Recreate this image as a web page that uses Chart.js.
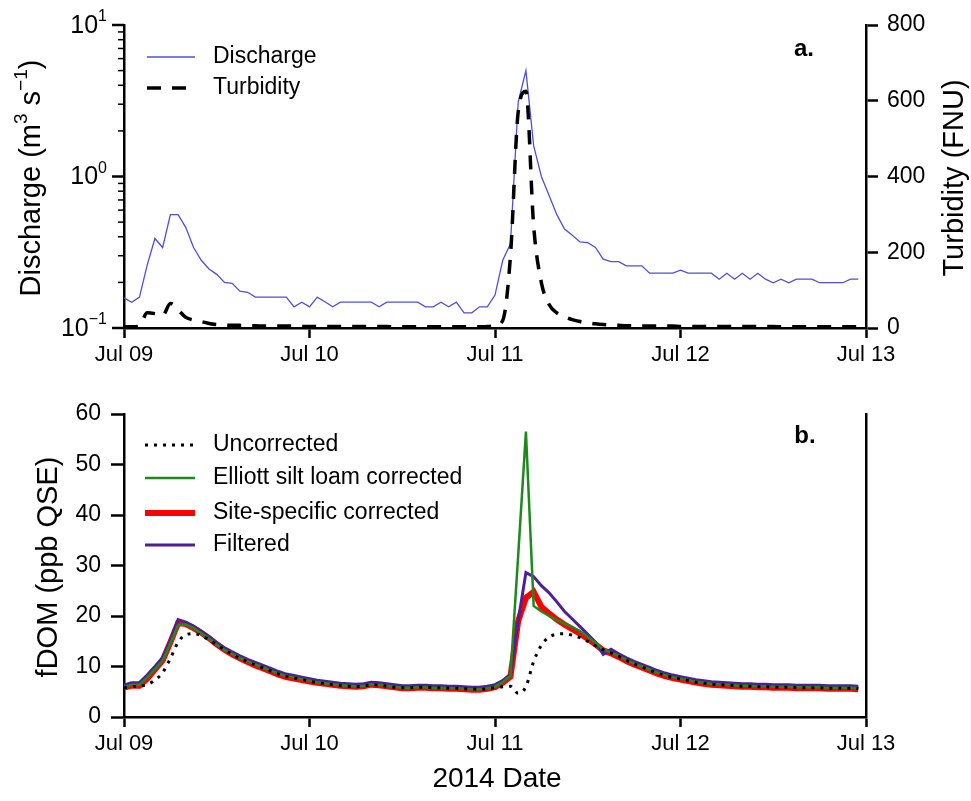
<!DOCTYPE html>
<html><head><meta charset="utf-8">
<script src="https://cdn.jsdelivr.net/npm/chart.js@4.4.1/dist/chart.umd.min.js"></script>
<style>
html,body{margin:0;padding:0;background:#fff;}
#wrap{position:relative;width:971px;height:801px;overflow:hidden;}
canvas{display:block;}
</style></head><body>
<div id="wrap">
<div style="position:absolute;left:0;top:0;width:971px;height:370px"><canvas id="c1" width="971" height="370"></canvas></div>
<div style="position:absolute;left:0;top:370px;width:971px;height:431px"><canvas id="c2" width="971" height="431"></canvas></div>
</div>
<script>
// ---------- data (hourly, starting Jul 09 00:00, 2014) ----------
const tickLabels = ['Jul 09','Jul 10','Jul 11','Jul 12','Jul 13'];
const logTicks = [0.1, 1, 10];
const logTickExp = ['\u22121', '0', '1'];

const discharge = [
 0.158,0.148,0.160,0.26,0.39,0.34,0.56,0.56,0.46,0.34,
 0.28,0.245,0.226,0.20,0.197,0.175,0.172,0.160,0.160,0.160,
 0.160,0.160,0.138,0.148,0.138,0.160,0.149,0.138,0.148,0.148,
 0.148,0.148,0.148,0.138,0.148,0.148,0.148,0.148,0.148,0.138,
 0.138,0.148,0.138,0.148,0.126,0.126,0.138,0.138,0.165,0.28,
 0.36,3.1,5.0,1.6,1.0,0.75,0.56,0.45,0.41,0.37,
 0.366,0.34,0.285,0.274,0.274,0.257,0.257,0.257,0.23,0.23,
 0.23,0.23,0.241,0.23,0.23,0.23,0.23,0.21,0.23,0.21,
 0.23,0.21,0.23,0.21,0.199,0.21,0.199,0.21,0.21,0.21,
 0.199,0.199,0.199,0.199,0.21,0.21];

const turbidity = [
 3,3,5,40,38,33,65,48,28,21,
 17,12,9,8,7,7,6,6,5,5,
 5,5,5,4,4,4,4,4,4,4,
 4,4,4,4,4,3,3,3,3,3,
 3,3,3,3,3,3,3,4,6,20,
 190,570,625,270,120,62,40,30,22,17,
 14,11,9,8,7,6,6,5,5,5,
 5,5,4,4,4,4,4,4,4,4,
 4,4,4,4,4,3,3,3,3,3,
 3,3,3,3,3,3];

const uncorrected = [
 5.8,6.0,6.1,6.4,7.3,8.8,11.6,14.8,16.3,16.5,
 16.1,15.3,14.3,13.3,12.4,11.6,10.9,10.3,9.7,9.1,
 8.5,8.0,7.7,7.4,7.1,6.8,6.6,6.4,6.2,6.1,
 6.0,6.1,6.4,6.3,6.1,5.9,5.8,5.8,5.9,5.9,
 5.8,5.8,5.7,5.7,5.6,5.5,5.5,5.6,5.8,6.0,
 6.1,4.7,6.0,11.0,14.2,15.8,16.4,16.5,16.2,15.7,
 15.0,14.1,13.3,12.7,12.0,11.2,10.5,9.9,9.3,8.7,
 8.2,7.8,7.5,7.2,6.9,6.7,6.5,6.4,6.3,6.2,
 6.1,6.1,6.0,6.0,5.9,5.9,5.9,5.8,5.8,5.8,
 5.8,5.7,5.7,5.7,5.7,5.6];

const elliott = [
 5.9,6.4,6.4,7.8,9.5,11.2,14.6,18.2,18.3,17.6,
 16.6,15.5,14.3,13.3,12.5,11.7,11.0,10.4,9.8,9.2,
 8.6,8.1,7.8,7.5,7.2,6.9,6.7,6.5,6.3,6.2,
 6.1,6.2,6.5,6.4,6.2,6.0,5.8,5.8,5.9,5.9,
 5.8,5.8,5.7,5.7,5.6,5.5,5.5,5.7,6.0,6.9,
 8.2,32.0,56.5,22.0,20.9,20.0,19.2,18.5,17.8,17.0,
 15.9,14.7,13.4,12.8,12.1,11.3,10.6,10.0,9.4,8.8,
 8.3,7.9,7.6,7.3,7.0,6.8,6.6,6.5,6.4,6.3,
 6.2,6.2,6.1,6.1,6.0,6.0,6.0,5.9,5.9,5.9,
 5.9,5.8,5.8,5.8,5.8,5.7];

const siteSpecific = [
 5.8,6.2,6.2,7.6,9.4,11.2,14.8,18.6,18.4,17.6,
 16.7,15.6,14.4,13.3,12.4,11.6,10.9,10.2,9.6,9.0,
 8.4,7.9,7.6,7.3,7.0,6.8,6.6,6.4,6.2,6.1,
 6.0,6.1,6.4,6.3,6.1,5.9,5.7,5.7,5.8,5.8,
 5.7,5.7,5.6,5.6,5.5,5.4,5.4,5.6,5.9,6.8,
 8.0,19.0,23.6,24.8,21.8,20.5,19.3,18.3,17.4,16.5,
 15.5,14.4,13.2,12.6,11.9,11.1,10.4,9.8,9.2,8.6,
 8.1,7.7,7.4,7.1,6.8,6.6,6.4,6.3,6.2,6.1,
 6.0,6.0,5.9,5.9,5.8,5.8,5.8,5.7,5.7,5.7,
 5.7,5.6,5.6,5.6,5.6,5.5];

const filtered = [
 6.3,6.8,6.8,8.3,10.0,11.8,15.3,19.3,18.8,18.0,
 17.0,15.9,14.7,13.7,12.9,12.1,11.4,10.8,10.2,9.6,
 9.0,8.5,8.2,7.9,7.6,7.3,7.1,6.9,6.7,6.6,
 6.5,6.6,6.9,6.8,6.6,6.4,6.2,6.2,6.3,6.3,
 6.2,6.2,6.1,6.1,6.0,5.9,5.9,6.1,6.4,7.2,
 8.5,19.0,28.6,27.8,26.0,24.6,22.8,20.9,19.4,17.9,
 16.4,14.8,12.4,13.4,12.5,11.7,11.0,10.4,9.8,9.2,
 8.7,8.3,8.0,7.7,7.4,7.2,7.0,6.9,6.8,6.7,
 6.6,6.6,6.5,6.5,6.4,6.4,6.4,6.3,6.3,6.3,
 6.3,6.2,6.2,6.2,6.2,6.1];

// ---------- helpers ----------
const FONT = '"Liberation Sans", Arial, Helvetica, sans-serif';
const toXY = arr => arr.map((v, i) => ({x: i, y: v}));
const fixSize = (w, h) => (scale) => { if (w != null) scale.width = w; if (h != null) scale.height = h; };

function drawRich(ctx, parts, cx, cy, rot, size) {
  const supSize = Math.round(size * 0.65);
  ctx.save();
  ctx.translate(cx, cy); ctx.rotate(rot);
  ctx.fillStyle = '#000';
  ctx.textBaseline = 'middle'; ctx.textAlign = 'left';
  let total = 0;
  parts.forEach(p => { ctx.font = (p.sup ? supSize : size) + 'px ' + FONT; total += ctx.measureText(p.t).width; });
  let x = -total / 2;
  parts.forEach(p => {
    ctx.font = (p.sup ? supSize : size) + 'px ' + FONT;
    ctx.fillText(p.t, x, p.sup ? -size * 0.36 : 0);
    x += ctx.measureText(p.t).width;
  });
  ctx.restore();
}

function drawLegend(chart, idxs, x0, x1, tx, ys, size) {
  const ctx = chart.ctx;
  idxs.forEach((idx, k) => {
    const ds = chart.data.datasets[idx];
    ctx.save();
    ctx.strokeStyle = ds.borderColor; ctx.lineWidth = ds.borderWidth;
    ctx.setLineDash(ds.borderDash || []);
    ctx.lineCap = ds.borderCapStyle || 'butt';
    ctx.beginPath(); ctx.moveTo(x0, ys[k]); ctx.lineTo(x1, ys[k]); ctx.stroke();
    ctx.setLineDash([]);
    ctx.fillStyle = '#000'; ctx.font = size + 'px ' + FONT;
    ctx.textBaseline = 'middle'; ctx.textAlign = 'left';
    ctx.fillText(ds.label, tx, ys[k]);
    ctx.restore();
  });
}

const xAxis = (h) => ({
  type: 'linear', min: 0, max: 96,
  afterFit: fixSize(null, h),
  border: {display: true, color: '#000', width: 2.5},
  grid: {display: true, drawOnChartArea: false, drawTicks: true, tickLength: 10, tickColor: '#000', tickWidth: 2.5},
  ticks: {stepSize: 24, color: '#000', padding: 4, maxRotation: 0, autoSkip: false,
          font: {family: FONT, size: 22},
          callback: (v) => tickLabels[v / 24] ?? ''}
});

// ---------- panel a ----------
const panelA = {
  id: 'panelA',
  afterDraw(chart) {
    const ctx = chart.ctx, s = chart.scales.y, left = chart.chartArea.left;
    ctx.save();
    ctx.strokeStyle = '#000';
    for (let e = -1; e <= 1; e++) {
      for (let m = 1; m <= 9; m++) {
        const v = m * Math.pow(10, e);
        if (v > 10.0001) break;
        const y = s.getPixelForValue(v);
        const len = m === 1 ? 12 : 6;
        ctx.lineWidth = m === 1 ? 2.5 : 1.5;
        ctx.beginPath(); ctx.moveTo(left - len, y); ctx.lineTo(left, y); ctx.stroke();
      }
    }
    ctx.fillStyle = '#000'; ctx.textBaseline = 'middle';
    logTicks.forEach((v, i) => {
      const y = s.getPixelForValue(v);
      ctx.font = '16px ' + FONT; ctx.textAlign = 'right';
      const ew = ctx.measureText(logTickExp[i]).width;
      ctx.fillText(logTickExp[i], 107, y - 8);
      ctx.font = '25px ' + FONT;
      ctx.fillText('10', 107 - ew, y + 1);
    });
    ctx.restore();
    drawRich(ctx, [{t: 'Discharge (m'}, {t: '3', sup: 1}, {t: ' s'}, {t: '\u22121', sup: 1}, {t: ')'}], 32, 178, -Math.PI / 2, 29);
    drawRich(ctx, [{t: 'Turbidity (FNU)'}], 955, 178, -Math.PI / 2, 29);
    ctx.save(); ctx.fillStyle = '#000'; ctx.font = 'bold 24px ' + FONT; ctx.textAlign = 'center'; ctx.textBaseline = 'middle';
    ctx.fillText('a.', 804, 49); ctx.restore();
    drawLegend(chart, [0, 1], 147, 195, 213, [57, 88], 23);
  }
};

new Chart(document.getElementById('c1'), {
  type: 'line',
  data: {datasets: [
    {label: 'Discharge', data: toXY(discharge), yAxisID: 'y', borderColor: '#4f4fdc', borderWidth: 1.3, pointRadius: 0, order: 1},
    {label: 'Turbidity', data: toXY(turbidity), yAxisID: 'y1', borderColor: '#000', borderWidth: 3.5, borderDash: [14, 11], pointRadius: 0, cubicInterpolationMode: 'monotone', order: 0}
  ]},
  options: {
    responsive: false, animation: false, devicePixelRatio: 1, events: [],
    layout: {padding: {top: 25, left: 0, right: 0, bottom: 0}},
    plugins: {legend: {display: false}, tooltip: {enabled: false}},
    scales: {
      x: xAxis(42),
      y: {type: 'logarithmic', position: 'left', min: 0.1, max: 10, afterFit: fixSize(124, null),
          border: {display: true, color: '#000', width: 2.5},
          grid: {display: false}, ticks: {display: false}},
      y1: {type: 'linear', position: 'right', min: 0, max: 800, afterFit: fixSize(105, null),
          border: {display: true, color: '#000', width: 2.5},
          grid: {display: true, drawOnChartArea: false, tickLength: 12, tickColor: '#000', tickWidth: 2.5},
          ticks: {stepSize: 200, color: '#000', padding: 9, font: {family: FONT, size: 23}}}
    }
  },
  plugins: [panelA]
});

// ---------- panel b ----------
const panelB = {
  id: 'panelB',
  afterDraw(chart) {
    const ctx = chart.ctx;
    drawRich(ctx, [{t: 'fDOM (ppb QSE)'}], 49, 197, -Math.PI / 2, 29);
    ctx.save(); ctx.fillStyle = '#000'; ctx.font = '28px ' + FONT; ctx.textAlign = 'center'; ctx.textBaseline = 'middle';
    ctx.fillText('2014 Date', 497, 409);
    ctx.font = 'bold 24px ' + FONT; ctx.fillText('b.', 805, 66);
    ctx.restore();
    drawLegend(chart, [0, 1, 2, 3], 145, 195, 213, [75, 108, 143, 175], 23);
  }
};

new Chart(document.getElementById('c2'), {
  type: 'line',
  data: {datasets: [
    {label: 'Uncorrected', data: toXY(uncorrected), borderColor: '#000', borderWidth: 3, borderDash: [3, 6], pointRadius: 0, cubicInterpolationMode: 'monotone', order: 0},
    {label: 'Elliott silt loam corrected', data: toXY(elliott), borderColor: '#1e8a1e', borderWidth: 2.5, pointRadius: 0, order: 1},
    {label: 'Site-specific corrected', data: toXY(siteSpecific), borderColor: '#ff0000', borderWidth: 6, pointRadius: 0, order: 3},
    {label: 'Filtered', data: toXY(filtered), borderColor: '#4e1f96', borderWidth: 3, pointRadius: 0, order: 2}
  ]},
  options: {
    responsive: false, animation: false, devicePixelRatio: 1, events: [],
    layout: {padding: {top: 44, left: 0, right: 0, bottom: 0}},
    plugins: {legend: {display: false}, tooltip: {enabled: false}},
    scales: {
      x: xAxis(84),
      y: {type: 'linear', position: 'left', min: 0, max: 60, afterFit: fixSize(124, null),
          border: {display: true, color: '#000', width: 2.5},
          grid: {display: true, drawOnChartArea: false, tickLength: 13, tickColor: '#000', tickWidth: 2.5},
          ticks: {stepSize: 10, color: '#000', padding: 10, font: {family: FONT, size: 23}}},
      y2: {type: 'linear', position: 'right', min: 0, max: 60, afterFit: fixSize(105, null),
          border: {display: true, color: '#000', width: 2.5},
          grid: {display: false}, ticks: {display: false}}
    }
  },
  plugins: [panelB]
});
</script>
</body></html>
